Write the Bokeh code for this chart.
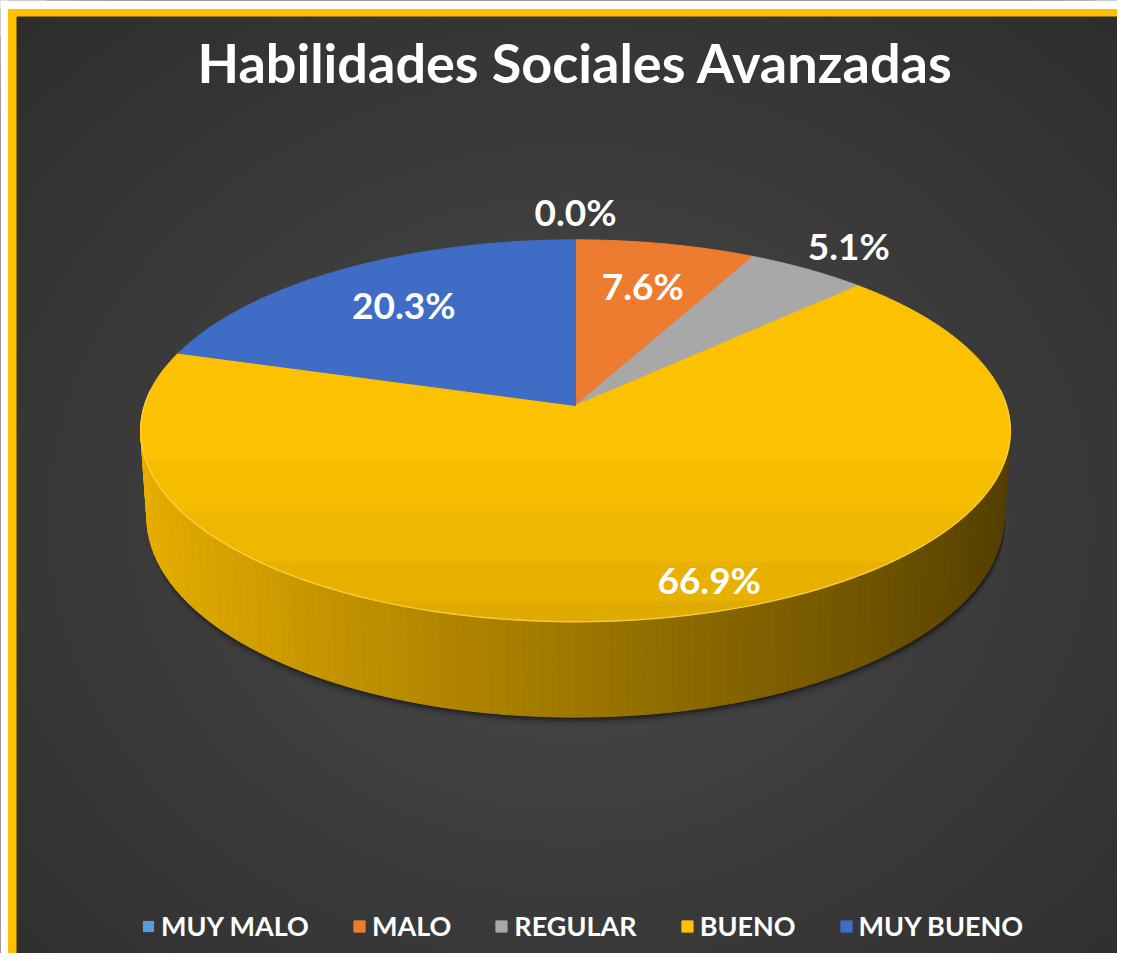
import numpy as np
from bokeh.plotting import figure
from bokeh.models import Range1d, Legend, LegendItem
from bokeh.core.properties import value
from bokeh.embed import file_html
from bokeh.resources import INLINE

# ---------------- data ----------------
categories = ["MUY MALO", "MALO", "REGULAR", "BUENO", "MUY BUENO"]
percentages = [0.0, 7.6, 5.1, 66.9, 20.3]
colors = ["#5B9BD5", "#ED7D31", "#A5A5A5", "#FFC000", "#4472C4"]
top_colors = ["#5B9BD5", "#EE7C30", "#A8A8A8", "#FCC100", "#3F6DC6"]
label_radius = [1.2, 0.72, 1.2, 0.87, 0.72]
label_frac = [0.5, 0.5, 0.5, 0.48, 0.5]
title_text = "Habilidades Sociales Avanzadas"

# ---------------- figure (data units = page pixels) ----------------
W, H = 1117, 953

p = figure(width=W, height=H, output_backend="svg", toolbar_location=None,
           x_range=Range1d(0, W), y_range=Range1d(H, 0),
           x_axis_location=None, y_axis_location=None,
           min_border_left=0, min_border_top=0, min_border_right=0, min_border_bottom=0)
p.border_fill_color = "#303030"
p.background_fill_color = "#2e2e2e"
p.outline_line_color = None
p.grid.visible = False

# radial background gradient (concentric ellipses)
bx, by = 570.0, 520.0
rs = np.linspace(1.0, 0.0, 40, endpoint=False)
c_center, c_edge = 0x4b, 0x2e
bg_cols = []
for r in rs:
    g = int(round(c_center + (c_edge - c_center) * r))
    bg_cols.append("#%02x%02x%02x" % (g, g, g))
p.ellipse(x=[bx] * len(rs), y=[by] * len(rs),
          width=list(rs * 1110 * 1.45), height=list(rs * 945 * 1.45),
          fill_color=bg_cols, line_color=None)

# chart-area frame: yellow border on the visible (left/top) edges, white page margin outside
p.quad(left=[7.5, 7.5], right=[16, W + 20], top=[8.5, 8.5], bottom=[H + 20, 16],
       fill_color="#FFC000", line_color=None)
p.quad(left=[-20, -20], right=[7.5, W + 20], top=[-20, -20], bottom=[H + 20, 8.5],
       fill_color="white", line_color=None)

# ---------------- 3D pie projection ----------------
CX, CY, RAD = 575.0, 405.0, 431.0
TILT = np.radians(25.8)
DIST = 6.8
DEPTH = 0.225
sa, ca = np.sin(TILT), np.cos(TILT)


def proj(X, Y, Z):
    up = Y * sa + Z * ca
    dep = -Y * ca + Z * sa
    sc = DIST / (DIST - dep)
    return CX + RAD * np.asarray(X) * sc, CY - RAD * np.asarray(up) * sc


total = float(sum(percentages))
cum = np.concatenate([[0.0], np.cumsum(percentages)]) / total
start_deg = 90.0 - 360.0 * cum[:-1]
end_deg = 90.0 - 360.0 * cum[1:]


def slice_index(math_deg):
    cw = ((90.0 - math_deg) % 360.0) / 360.0
    for i in range(len(percentages)):
        if cum[i] <= cw < cum[i + 1]:
            return i
    return len(percentages) - 1


def shade(hexcol, f):
    r, g, b = int(hexcol[1:3], 16), int(hexcol[3:5], 16), int(hexcol[5:7], 16)
    return "#%02x%02x%02x" % (min(255, int(r * f)), min(255, int(g * f)), min(255, int(b * f)))


# shadow beneath the pie
tt = np.radians(np.linspace(0, 360, 241))
for dy, alpha in [(9, 0.06), (6, 0.10), (4, 0.16), (2, 0.28)]:
    sx, sy = proj(np.cos(tt), np.sin(tt), -DEPTH)
    p.patch(x=list(sx + 1), y=list(sy + dy), fill_color="black", fill_alpha=alpha, line_color=None)

# side wall (front part), back-to-front
phis = np.arange(-192, 13, 2.0)
quads = []
for a, b in zip(phis[:-1], phis[1:]):
    ta, tb = np.radians(a), np.radians(b)
    mid = (a + b) / 2
    ax_, ay_ = proj(np.cos(ta), np.sin(ta), 0)
    bx_, by_ = proj(np.cos(tb), np.sin(tb), 0)
    cx_, cy_ = proj(np.cos(tb), np.sin(tb), -DEPTH)
    dx_, dy_ = proj(np.cos(ta), np.sin(ta), -DEPTH)
    idx = slice_index(mid)
    f = 0.62 - 0.30 * np.cos(np.radians(mid))
    col = shade(colors[idx], f)
    quads.append((-np.sin(np.radians(mid)), [float(ax_), float(bx_), float(cx_), float(dx_)],
                  [float(ay_), float(by_), float(cy_), float(dy_)], col))
quads.sort(key=lambda q: q[0])
p.patches(xs=[q[1] for q in quads], ys=[q[2] for q in quads],
          fill_color=[q[3] for q in quads], line_color=[q[3] for q in quads], line_width=1)

# top faces (one patch per category, the 0 % slice is degenerate)
sxs, sys = [], []
for i, (s, e) in enumerate(zip(start_deg, end_deg)):
    n = int(abs(s - e)) + 2
    t = np.radians(np.linspace(s, e, n))
    px, py = proj(np.cos(t), np.sin(t), 0)
    sxs.append([CX] + list(px))
    sys.append([CY] + list(py))
line_alpha = [1.0 if v > 0 else 0.0 for v in percentages]
slices = p.patches(xs=sxs, ys=sys, fill_color=top_colors, line_color=top_colors,
                   line_alpha=line_alpha, line_width=1)

# subtle vertical shading of the front part of the top face
tf = np.radians(np.linspace(0, -180, 361))
fx, fy = proj(np.cos(tf), np.sin(tf), 0)
for ycut, alpha in [(460, 0.025), (510, 0.025), (560, 0.03), (600, 0.03)]:
    m = fy >= ycut
    if m.sum() > 2:
        p.patch(x=list(fx[m]), y=list(fy[m]), fill_color="black", fill_alpha=alpha, line_color=None)

# rim highlight along front edge of the top face
tr = np.radians(np.linspace(-185, 5, 120))
rx, ry = proj(np.cos(tr), np.sin(tr), 0)
p.line(x=list(rx), y=list(ry), line_color="#FFD54A", line_width=1.5, line_alpha=0.7)

# data labels
lx, ly, lt = [], [], []
for i in range(len(percentages)):
    ang = np.radians(start_deg[i] + (end_deg[i] - start_deg[i]) * label_frac[i])
    r = label_radius[i]
    x_, y_ = proj(r * np.cos(ang), r * np.sin(ang), 0)
    lx.append(float(x_))
    ly.append(float(y_))
    lt.append(f"{percentages[i]:.1f}%")
p.text(x=lx, y=ly, text=lt, text_color="white", text_font=value("Lato"),
       text_font_style="bold", text_font_size="37px", text_align="center", text_baseline="middle")

# title
p.text(x=[575], y=[62], text=[title_text], text_color="white", text_font=value("Lato"),
       text_font_style="bold", text_font_size="54px", text_align="center", text_baseline="middle")

# legend
items = [LegendItem(label=cat, renderers=[slices], index=i) for i, cat in enumerate(categories)]
legend = Legend(items=items, orientation="horizontal", location=(141, H - 925 - 17),
                label_text_color="white", label_text_font="Lato", label_text_font_style="bold",
                label_text_font_size="27px", glyph_width=14, glyph_height=14,
                label_standoff=6, spacing=43, padding=0, margin=0,
                border_line_color=None, background_fill_alpha=0)
p.add_layout(legend)

open("out.html", "w").write(file_html(p, INLINE))
